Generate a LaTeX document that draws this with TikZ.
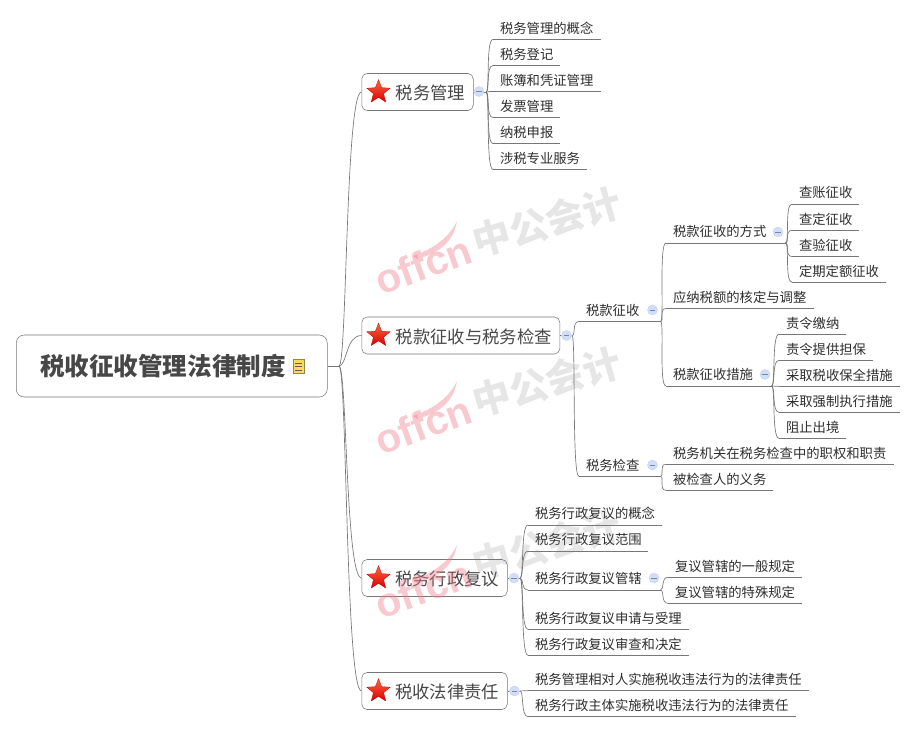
\documentclass[tikz,border=0pt]{standalone}
\usepackage{fontspec}
\setmainfont{Noto Sans CJK SC}
\newfontfamily\wmfont{Liberation Sans}
\usepackage{tikz}
\usetikzlibrary{shapes,arrows}
\usetikzlibrary{positioning}

\definecolor{linegray}{HTML}{777777}
\definecolor{textgray}{HTML}{2E2E2E}
\definecolor{hubblue}{HTML}{CFE0F5}
\definecolor{logopink}{HTML}{EE7F8C}
\tikzset{
  x=0.75pt, y=-0.75pt,
  root/.style={rectangle, draw=linegray, rounded corners=6pt, anchor=west, minimum height=46.5pt, inner xsep=18pt, text width=197.25pt, text height=15pt, text depth=1pt, align=left, font=\fontsize{18.4}{20}\selectfont\bfseries, text=black!72},
  topic/.style={rectangle, draw=linegray, rounded corners=4pt, anchor=west, minimum height=27.75pt, inner xsep=6pt, text width=#1*0.75pt-12pt, text height=12pt, text depth=0.6pt, align=right, font=\fontsize{13}{15}\selectfont, text=black!72},
  leaf/.style={rectangle, anchor=south west, inner xsep=5.1pt, inner ysep=2pt, text width=#1*0.75pt-10.2pt, text height=9pt, text depth=2.45pt, align=left, font=\fontsize{10}{12}\selectfont, text=textgray},
  redstar/.style={star, star points=5, star point ratio=2.3, inner sep=0pt, minimum size=18.5pt, draw=red!70!black, line width=0.2pt, top color=red!60!orange!75, bottom color=red!85!black},
  hub/.style={circle, draw=blue!20, fill=hubblue, inner sep=0pt, minimum size=7.5pt, line width=0.3pt, path picture={\draw[blue!40!black!50, line width=0.35pt] ([xshift=1.8pt]path picture bounding box.west) -- ([xshift=-1.8pt]path picture bounding box.east);}},
  link/.style={out=0, in=180, out distance=3pt, in distance=5.5pt, draw=linegray, line width=0.5pt},
  spine/.style={out=0, in=180, out distance=6pt, in distance=12pt, draw=linegray, line width=0.5pt},
  rule/.style={draw=linegray, line width=0.5pt},
  wmcjk/.style={rotate=16, text=gray, text opacity=0.2, font=\fontsize{28.5}{32}\selectfont\bfseries},
  wmlogo/.style={rotate=20, text=logopink, text opacity=0.42, font=\wmfont\fontsize{30.5}{34}\selectfont\bfseries},
  swoosh/.style={fill=logopink, fill opacity=0.42, draw=none},
}

\begin{document}
\begin{tikzpicture}
\useasboundingbox (0,0) rectangle (915,732);

% root and main topics
\node[root] (root) at (16,366) {税收征收管理法律制度};
\node[rectangle, draw=yellow!50!black, fill=yellow!55!orange!60, inner sep=0pt, minimum width=8pt, minimum height=10.5pt] (note) at (298.5,366.5) {};
\draw[yellow!30!black, line width=0.4pt] ([xshift=1.5pt,yshift=2.5pt]note.west) -- ([xshift=-1.5pt,yshift=2.5pt]note.east);
\draw[yellow!30!black, line width=0.4pt] ([xshift=1.5pt]note.west) -- ([xshift=-1.5pt]note.east);
\draw[yellow!30!black, line width=0.4pt] ([xshift=1.5pt,yshift=-2.5pt]note.west) -- ([xshift=-1.5pt,yshift=-2.5pt]note.east);

\node[topic=111.5] (tax) at (361.5,92) {税务管理};
\node[topic=198] (collect) at (361.5,335.5) {税款征收与税务检查};
\node[topic=145.5] (review) at (361.5,578) {税务行政复议};
\node[topic=145.5] (liable) at (361.5,691) {税收法律责任};

\node[redstar] (star1) at (378.5,92) {};
\node[redstar] (star2) at (378.5,335.5) {};
\node[redstar] (star3) at (378.5,578) {};
\node[redstar] (star4) at (378.5,691) {};

\coordinate (rootend) at (339,366);
\coordinate (taxend) at (486,92);
\coordinate (collectend) at (572,335.5);
\coordinate (reviewend) at (520,578);
\coordinate (liableend) at (520,691);

\path[rule] (root.east) edge (rootend);
\path (rootend) edge[spine] (tax.west);
\path (rootend) edge[spine] (collect.west);
\path (rootend) edge[spine] (review.west);
\path (rootend) edge[spine] (liable.west);
\path[rule] (tax.east) edge (taxend);
\path[rule] (collect.east) edge (collectend);
\path[rule] (review.east) edge (reviewend);
\path[rule] (liable.east) edge (liableend);

% first topic
\node[leaf=107] (tax1) at (493,39.5) {税务管理的概念};
\node[leaf=66] (tax2) at (493,65.5) {税务登记};
\node[leaf=107] (tax3) at (493,91.5) {账簿和凭证管理};
\node[leaf=66] (tax4) at (493,117.5) {发票管理};
\node[leaf=66] (tax5) at (493,143.5) {纳税申报};
\node[leaf=93] (tax6) at (493,169.5) {涉税专业服务};

% second topic
\node[leaf=81] (levy) at (579,321.5) {税款征收};
\node[leaf=81] (audit) at (579,476.5) {税务检查};
\node[leaf=119] (way) at (666,243) {税款征收的方式};
\node[leaf=147] (adjust) at (666,308.5) {应纳税额的核定与调整};
\node[leaf=105] (means) at (666,386) {税款征收措施};
\node[leaf=66] (way1) at (792,204) {查账征收};
\node[leaf=66] (way2) at (792,230.3) {查定征收};
\node[leaf=66] (way3) at (792,256.5) {查验征收};
\node[leaf=93] (way4) at (792,282.3) {定期定额征收};
\node[leaf=66] (means1) at (779,334.3) {责令缴纳};
\node[leaf=93] (means2) at (779,360.3) {责令提供担保};
\node[leaf=120] (means3) at (779,386.3) {采取税收保全措施};
\node[leaf=120] (means4) at (779,412.3) {采取强制执行措施};
\node[leaf=66] (means5) at (779,438.3) {阻止出境};
\node[leaf=227] (audit1) at (666,464.3) {税务机关在税务检查中的职权和职责};
\node[leaf=106] (audit2) at (666,490.3) {被检查人的义务};

% third topic
\node[leaf=133] (rev1) at (528,525) {税务行政复议的概念};
\node[leaf=119] (rev2) at (528,551) {税务行政复议范围};
\node[leaf=132] (rev3) at (528,590) {税务行政复议管辖};
\node[leaf=160] (rev4) at (528,629.3) {税务行政复议申请与受理};
\node[leaf=160] (rev5) at (528,655.3) {税务行政复议审查和决定};
\node[leaf=133] (rule1) at (668,577.3) {复议管辖的一般规定};
\node[leaf=133] (rule2) at (668,603.3) {复议管辖的特殊规定};

% fourth topic
\node[leaf=280] (duty1) at (528,690.7) {税务管理相对人实施税收违法行为的法律责任};
\node[leaf=267] (duty2) at (528,716.7) {税务行政主体实施税收违法行为的法律责任};

\foreach \n in {tax1,tax2,tax3,tax4,tax5,tax6} {\path (taxend) edge[link] (\n.south west);}
\foreach \n in {levy,audit} {\path (collectend) edge[link] (\n.south west);}
\foreach \n in {way,adjust,means} {\path (levy.south east) edge[link] (\n.south west);}
\foreach \n in {way1,way2,way3,way4} {\path (way.south east) edge[link] (\n.south west);}
\foreach \n in {means1,means2,means3,means4,means5} {\path (means.south east) edge[link] (\n.south west);}
\foreach \n in {audit1,audit2} {\path (audit.south east) edge[link] (\n.south west);}
\foreach \n in {rev1,rev2,rev3,rev4,rev5} {\path (reviewend) edge[link] (\n.south west);}
\foreach \n in {rule1,rule2} {\path (rev3.south east) edge[link] (\n.south west);}
\foreach \n in {duty1,duty2} {\path (liableend) edge[link] (\n.south west);}

\foreach \n in {tax1,tax2,tax3,tax4,tax5,tax6,levy,audit,way,adjust,means,way1,way2,way3,way4,means1,means2,means3,means4,means5,audit1,audit2,rev1,rev2,rev3,rev4,rev5,rule1,rule2,duty1,duty2} {\path[rule] (\n.south west) edge (\n.south east);}

% collapse marks
\node[hub] (hubtax) at (479,91.5) {};
\node[hub] (hubcollect) at (566.5,335.5) {};
\node[hub] (hubreview) at (514,578) {};
\node[hub] (hubliable) at (514.5,691) {};
\node[hub] (hublevy) at (652.5,310) {};
\node[hub] (hubway) at (778,232) {};
\node[hub] (hubmeans) at (765,374.5) {};
\node[hub] (hubaudit) at (652.5,465) {};
\node[hub] (hubrev) at (654,578) {};

% watermarks
\node[wmcjk] (wmcjk1) at (547,222) {中公会计};
\node[wmcjk] (wmcjk2) at (547,382) {中公会计};
\node[wmcjk] (wmcjk3) at (547,545) {中公会计};
\node[wmlogo] (wmlogo1) at (423,265) {offcn};
\node[wmlogo] (wmlogo2) at (423,425) {offcn};
\node[wmlogo] (wmlogo3) at (423,589) {offcn};
\foreach \dy in {0,160,324} {
  \fill[swoosh] (413,256+\dy) .. controls (430,250+\dy) and (448,240+\dy) .. (457,221+\dy) .. controls (453,245+\dy) and (435,254+\dy) .. (417,259+\dy) -- cycle;
}
\end{tikzpicture}
\end{document}
